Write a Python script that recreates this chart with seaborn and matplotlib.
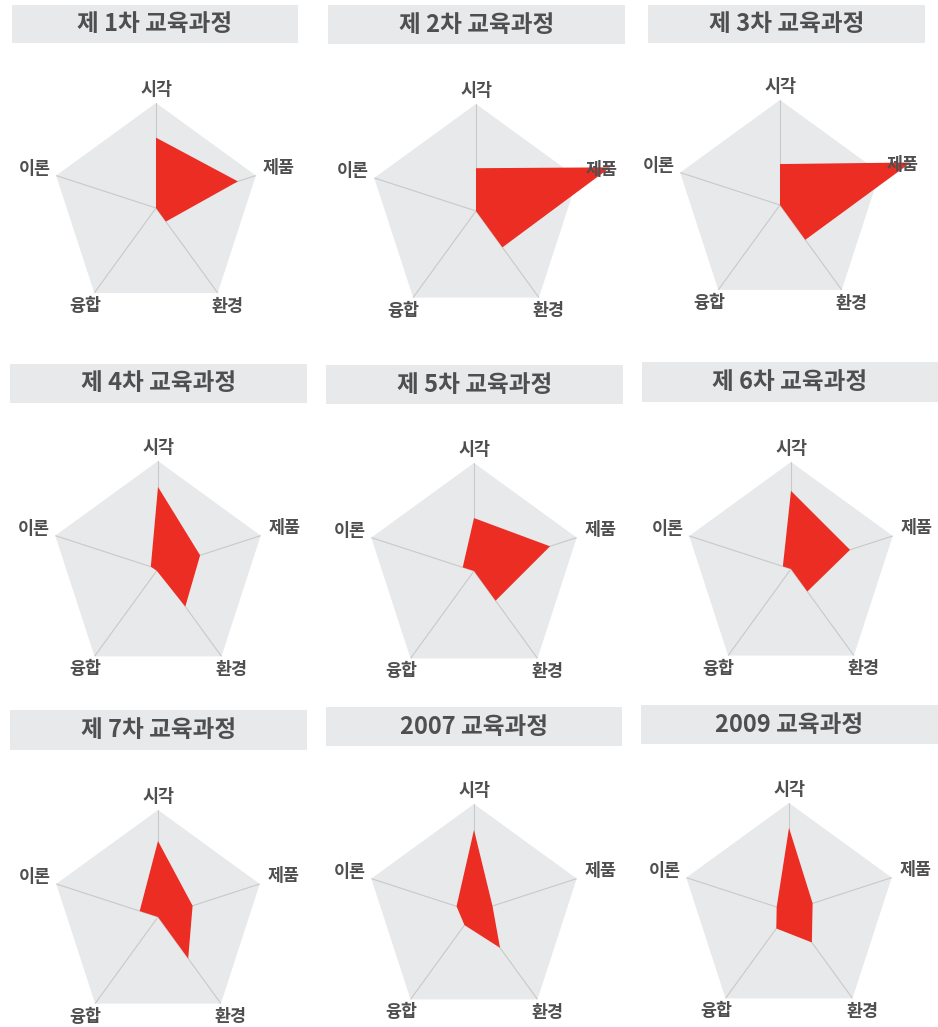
import numpy as np
import matplotlib
matplotlib.use("Agg")
import matplotlib.pyplot as plt
from matplotlib.patches import Rectangle
import seaborn as sns

# ---------------- data ----------------
axes_labels = ["시각", "제품", "환경", "융합", "이론"]
titles = ["제 1차 교육과정", "제 2차 교육과정", "제 3차 교육과정",
          "제 4차 교육과정", "제 5차 교육과정", "제 6차 교육과정",
          "제 7차 교육과정", "2007 교육과정", "2009 교육과정"]
v1 = [67, 82, 16, 0, 0]
v2 = [40, 132, 42, 0, 0]
v3 = [39, 131, 41, 0, 0]
v4 = [76, 41, 43, 2, 7]
v5 = [49, 74, 34, 0, 11]
v6 = [73, 58, 26, 0, 8]
v7 = [71, 34, 48, 0, 18]
v8 = [76, 18, 41, 15, 17]
v9 = [77, 23, 36, 20, 12]
series = [v1, v2, v3, v4, v5, v6, v7, v8, v9]
scale_max = 100

# ---------------- style ----------------
sns.set_theme(style="white")
plt.rcParams["font.family"] = ["Noto Sans CJK KR", "DejaVu Sans"]

W, H = 938, 1027
fig = plt.figure(figsize=(W / 100, H / 100), dpi=100)
fig.patch.set_facecolor("white")

BG = "#e8e9eb"
RED = "#ec2d23"
TXT = "#4f4f4f"
SPOKE = "#c9c9c9"

# panel layout in pixels: chart centre (x, y), radius, title box (x0, x1, y0, y1)
centres = [(156, 208, 105), (476, 211, 107), (780, 205, 105),
           (158, 569, 108), (474, 571, 108), (791, 569, 107),
           (158, 917, 107), (474, 912, 108), (789, 911, 108)]
boxes = [(12, 298, 5, 43), (328, 625, 5, 44), (648, 925, 5, 43),
         (10, 307, 364, 403), (326, 623, 365, 404), (642, 938, 362, 402),
         (10, 307, 710, 750), (326, 622, 707, 746), (641, 938, 705, 744)]
label_r = [1.12, 1.23, 1.16, 1.15, 1.21]

angles = np.deg2rad(np.arange(5) * 72.0)
closed = np.append(angles, angles[0])

for i in range(9):
    cx, cy, R = centres[i]
    ax = fig.add_axes([(cx - R) / W, 1 - (cy + R) / H, 2 * R / W, 2 * R / H],
                      projection="polar")
    ax.set_theta_zero_location("N")
    ax.set_theta_direction(-1)
    ax.set_ylim(0, 1)
    ax.axis("off")

    # background pentagon
    ax.fill(closed, np.ones(6), color=BG, lw=0, zorder=0)
    # spokes
    for a in angles:
        ax.plot([a, a], [0, 1], color=SPOKE, lw=0.8, zorder=1)
    # data polygon
    vals = np.array(series[i], dtype=float) / scale_max
    ax.fill(closed, np.append(vals, vals[0]), color=RED, lw=0,
            zorder=2, clip_on=False)
    # labels
    for a, lab, r in zip(angles, axes_labels, label_r):
        ax.text(a, r, lab, ha="center", va="center", fontsize=12.5,
                color=TXT, fontweight="semibold", clip_on=False, zorder=3)

    # title box
    x0, x1, y0, y1 = boxes[i]
    fig.patches.append(Rectangle((x0 / W, 1 - y1 / H), (x1 - x0) / W,
                                 (y1 - y0) / H, transform=fig.transFigure,
                                 facecolor=BG, edgecolor="none", zorder=0))
    fig.text((x0 + x1) / 2 / W, 1 - (y0 + y1) / 2 / H, titles[i],
             ha="center", va="center", fontsize=17, color=TXT,
             fontweight="semibold")

fig.savefig("out.png", dpi=100, facecolor="white")
